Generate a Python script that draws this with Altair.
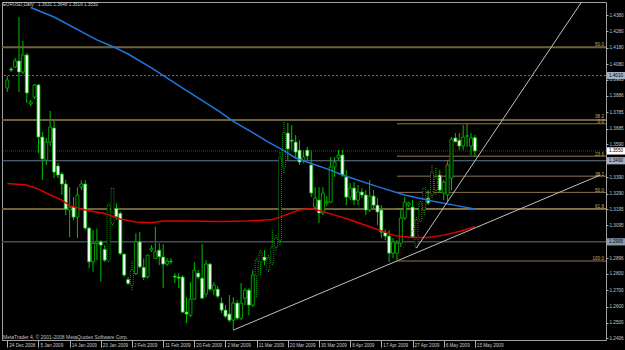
import altair as alt
import pandas as pd

# ---------------- data ----------------
opens = [1.3934, 1.4050, 1.4063, 1.4099, 1.4032, 1.4136, 1.3837, 1.3879, 1.3953, 1.3635,
         1.3494, 1.3604, 1.3690, 1.3458, 1.3409, 1.3348, 1.3189, 1.3207, 1.3146, 1.3329,
         1.3348, 1.3079, 1.2873, 1.2985, 1.2995, 1.2949, 1.2883, 1.3108, 1.3199, 1.3169,
         1.2920, 1.2765, 1.2731, 1.2802, 1.2995, 1.2839, 1.2781, 1.2944, 1.2894, 1.2944,
         1.2902, 1.2859, 1.2877, 1.2786, 1.2780, 1.2780, 1.2566, 1.2547, 1.2645, 1.2804,
         1.2773, 1.2676, 1.2859, 1.2700, 1.2706, 1.2621, 1.2578, 1.2554, 1.2517, 1.2621,
         1.2529, 1.2651, 1.2700, 1.2609, 1.2792, 1.2871, 1.2902, 1.2822, 1.2865, 1.2963,
         1.3005, 1.3452, 1.3659, 1.3616, 1.3604, 1.3555, 1.3494, 1.3555, 1.3464, 1.3207,
         1.3250, 1.3171, 1.3232, 1.3238, 1.3452, 1.3507, 1.3525, 1.3391, 1.3268, 1.3323,
         1.3250, 1.3299, 1.3281, 1.3189, 1.3274, 1.3219, 1.3189, 1.3054, 1.3030, 1.2926,
         1.2926, 1.2987, 1.3140, 1.3219, 1.3207, 1.2963, 1.3128, 1.3189, 1.3262, 1.3281,
         1.3311, 1.3403, 1.3293, 1.3281, 1.3384, 1.3629, 1.3616, 1.3580, 1.3641, 1.3580,
         1.3631]
highs = [1.4008, 1.4063, 1.4118, 1.4368, 1.4222, 1.4148, 1.3861, 1.3959, 1.3959, 1.3665,
         1.3629, 1.3794, 1.3745, 1.3476, 1.3421, 1.3372, 1.3329, 1.3268, 1.3329, 1.3372,
         1.3372, 1.3087, 1.3067, 1.3077, 1.3005, 1.2975, 1.3230, 1.3323, 1.3230, 1.3180,
         1.2924, 1.2781, 1.2883, 1.3047, 1.3056, 1.2894, 1.2914, 1.2975, 1.3087, 1.2987,
         1.2981, 1.2896, 1.2896, 1.2804, 1.2804, 1.2792, 1.2657, 1.2749, 1.2871, 1.2822,
         1.2981, 1.2883, 1.2865, 1.2749, 1.2725, 1.2657, 1.2609, 1.2670, 1.2657, 1.2639,
         1.2743, 1.2712, 1.2712, 1.2822, 1.2902, 1.2944, 1.2944, 1.2914, 1.3067, 1.3036,
         1.3543, 1.3727, 1.3721, 1.3708, 1.3647, 1.3616, 1.3555, 1.3574, 1.3555, 1.3329,
         1.3329, 1.3329, 1.3274, 1.3513, 1.3513, 1.3555, 1.3555, 1.3433, 1.3354, 1.3360,
         1.3342, 1.3323, 1.3311, 1.3372, 1.3311, 1.3262, 1.3219, 1.3073, 1.3067, 1.3018,
         1.3005, 1.3189, 1.3268, 1.3238, 1.3250, 1.3146, 1.3250, 1.3329, 1.3311, 1.3464,
         1.3446, 1.3433, 1.3372, 1.3494, 1.3635, 1.3659, 1.3659, 1.3708, 1.3714, 1.3659,
         1.3648]
lows = [1.3910, 1.4032, 1.4057, 1.3910, 1.4020, 1.3843, 1.3824, 1.3867, 1.3537, 1.3372,
        1.3464, 1.3580, 1.3384, 1.3384, 1.3281, 1.3158, 1.3024, 1.3128, 1.3018, 1.3311,
        1.3067, 1.2833, 1.2812, 1.2883, 1.2751, 1.2873, 1.2873, 1.3097, 1.3128, 1.2914,
        1.2781, 1.2731, 1.2700, 1.2792, 1.2833, 1.2761, 1.2772, 1.2934, 1.2894, 1.2853,
        1.2712, 1.2847, 1.2859, 1.2743, 1.2712, 1.2560, 1.2499, 1.2535, 1.2639, 1.2767,
        1.2645, 1.2657, 1.2694, 1.2670, 1.2651, 1.2560, 1.2529, 1.2505, 1.2456, 1.2517,
        1.2517, 1.2609, 1.2547, 1.2597, 1.2657, 1.2792, 1.2853, 1.2810, 1.2853, 1.2944,
        1.2975, 1.3415, 1.3494, 1.3555, 1.3507, 1.3464, 1.3476, 1.3494, 1.3268, 1.3201,
        1.3110, 1.3158, 1.3213, 1.3232, 1.3391, 1.3494, 1.3391, 1.3219, 1.3250, 1.3219,
        1.3219, 1.3262, 1.3158, 1.3177, 1.3189, 1.3097, 1.3018, 1.3005, 1.2871, 1.2896,
        1.2877, 1.2963, 1.3128, 1.3207, 1.3018, 1.2957, 1.3116, 1.3158, 1.3219, 1.3262,
        1.3281, 1.3299, 1.3250, 1.3238, 1.3311, 1.3604, 1.3555, 1.3555, 1.3574, 1.3525,
        1.3516]
closes = [1.3983, 1.4044, 1.4099, 1.4032, 1.4136, 1.3904, 1.3849, 1.3953, 1.3635, 1.3501,
          1.3604, 1.3696, 1.3421, 1.3403, 1.3348, 1.3195, 1.3207, 1.3146, 1.3281, 1.3348,
          1.3079, 1.2873, 1.2985, 1.2995, 1.2975, 1.2883, 1.3219, 1.3322, 1.3148, 1.2924,
          1.2792, 1.2741, 1.2822, 1.2995, 1.2842, 1.2778, 1.2914, 1.2955, 1.2934, 1.2904,
          1.2859, 1.2877, 1.2874, 1.2780, 1.2773, 1.2566, 1.2554, 1.2645, 1.2822, 1.2780,
          1.2651, 1.2859, 1.2706, 1.2731, 1.2663, 1.2578, 1.2541, 1.2517, 1.2621, 1.2529,
          1.2621, 1.2700, 1.2609, 1.2792, 1.2883, 1.2932, 1.2883, 1.2896, 1.2963, 1.3018,
          1.3507, 1.3659, 1.3562, 1.3610, 1.3543, 1.3482, 1.3513, 1.3519, 1.3293, 1.3262,
          1.3171, 1.3293, 1.3238, 1.3452, 1.3482, 1.3525, 1.3403, 1.3268, 1.3323, 1.3250,
          1.3299, 1.3281, 1.3189, 1.3274, 1.3219, 1.3177, 1.3054, 1.3030, 1.2926, 1.2993,
          1.2987, 1.3140, 1.3238, 1.3232, 1.3024, 1.3128, 1.3232, 1.3323, 1.3232, 1.3421,
          1.3384, 1.3311, 1.3360, 1.3464, 1.3622, 1.3606, 1.3580, 1.3635, 1.3641, 1.3629,
          1.3550]

date_labels = ["24 Dec 2008", "5 Jan 2009", "14 Jan 2009", "23 Jan 2009", "2 Feb 2009",
               "11 Feb 2009", "20 Feb 2009", "2 Mar 2009", "11 Mar 2009", "20 Mar 2009",
               "30 Mar 2009", "8 Apr 2009", "17 Apr 2009", "27 Apr 2009", "6 May 2009",
               "15 May 2009"]
bars_per_label = 8

price_ticks = [1.4380, 1.4280, 1.4180, 1.4080, 1.3985, 1.3886, 1.3785, 1.3685, 1.3590,
               1.3390, 1.3290, 1.3195, 1.3095, 1.2896, 1.2800, 1.2700, 1.2600, 1.2500, 1.2406]

blue_ma_bar = [6, 12, 23, 27, 31, 37, 45, 54, 58, 63, 67, 71, 74, 78, 83, 86, 95, 102, 109, 116, 120]
blue_ma = [1.4426, 1.4368, 1.4228, 1.4188, 1.4142, 1.4057, 1.3934, 1.3797, 1.3730, 1.3662,
           1.3604, 1.3552, 1.3507, 1.3473, 1.3433, 1.3403, 1.3332, 1.3281, 1.3244, 1.3213, 1.3195]
red_ma_bar = [0, 5, 8, 10, 14, 16, 20, 25, 29, 33, 37, 40, 46, 54, 62, 68, 70, 72, 75, 78, 81, 84,
              87, 95, 98, 100, 104, 108, 112, 116, 120]
red_ma = [1.3351, 1.3342, 1.3317, 1.3293, 1.3250, 1.3216, 1.3189, 1.3168, 1.3134, 1.3116, 1.3111,
          1.3122, 1.3122, 1.3119, 1.3122, 1.3131, 1.3146, 1.3164, 1.3189, 1.3198, 1.3180, 1.3158,
          1.3137, 1.3070, 1.3045, 1.3030, 1.3022, 1.3022, 1.3036, 1.3058, 1.3087]

trend_a_bar = [58, 152.2]
trend_a = [1.2456, 1.3403]
trend_b_bar = [105, 151]
trend_b = [1.2957, 1.4588]
fib_base_bar = [100, 118]
fib_base = [1.2878, 1.3716]

long_fib_levels = [1.4183, 1.3739, 1.3195]
long_fib_text = ["50.0", "38.2", ""]
short_fib_levels = [1.3716, 1.3518, 1.3396, 1.3297, 1.3198, 1.2878]
short_fib_text = ["0.0", "23.6", "38.2", "50.0", "61.8", "100.0"]
short_fib_start_bar = 100

hlines = [1.4010, 1.3490, 1.2995]
bid_price = 1.3550
marked_prices = [1.4010, 1.3550, 1.3490, 1.2995]

dotted_bars = [26, 27, 32, 64, 65, 67, 68, 69, 70, 71, 105, 106, 107, 109, 110]

# ---------------- frames ----------------
n = len(opens)
df = pd.DataFrame({"i": list(range(n)), "open": opens, "high": highs, "low": lows, "close": closes})
df["dotted"] = df["i"].isin(dotted_bars)

FONT = "Liberation Sans"
GREEN = "#00c000"
W, H = 604, 338
FS = 4.6

xs = alt.Scale(domain=[-0.076, 152.37], nice=False, zero=False)
ys = alt.Scale(domain=[1.23956, 1.44594], nice=False, zero=False)

label_expr = "[" + ",".join("'%s'" % s for s in date_labels) + "][round(datum.value/%d)]" % bars_per_label
x_axis = alt.Axis(values=[k * bars_per_label for k in range(len(date_labels))], labelExpr=label_expr,
                  title=None, grid=False, domain=False, labelAlign="left", labelOffset=1.5,
                  labelFontSize=FS, labelFont=FONT, labelColor="#c8c8c8", tickColor="#b0b0b0",
                  tickSize=7, labelPadding=-4.5, labelBaseline="top", labelOverlap=False,
                  labelFlush=False)
y_axis = alt.Axis(values=price_ticks, format=".4f", orient="right", title=None, grid=False,
                  domain=False, labelFontSize=FS, labelFont=FONT, labelColor="#c8c8c8",
                  tickColor="#b0b0b0", tickSize=2, labelPadding=1, labelOverlap=False,
                  labelFlush=False, labelBaseline="middle")

base = alt.Chart(df)

def X(f="i"):
    return alt.X(f + ":Q", scale=xs, axis=x_axis)

def Y(f):
    return alt.Y(f + ":Q", scale=ys, axis=y_axis)

# horizontal lines
long_df = pd.DataFrame({"p": long_fib_levels, "t": long_fib_text})
short_df = pd.DataFrame({"p": short_fib_levels, "t": short_fib_text, "s": short_fib_start_bar})
hl_df = pd.DataFrame({"p": hlines, "k": ["dash", "solid", "dark"]})

long_lines = alt.Chart(long_df).mark_rule(color="#6e6238", strokeWidth=2).encode(y=Y("p"))
short_lines = alt.Chart(short_df).mark_rule(color="#8a7850", strokeWidth=1).encode(
    x=X("s"), x2=alt.value(W), y=Y("p"))
hl1 = alt.Chart(hl_df[hl_df.k == "dash"]).mark_rule(color="#687890", strokeWidth=1, strokeDash=[2, 2]).encode(y=Y("p"))
hl2 = alt.Chart(hl_df[hl_df.k == "solid"]).mark_rule(color="#66788e", strokeWidth=1).encode(y=Y("p"))
hl3 = alt.Chart(hl_df[hl_df.k == "dark"]).mark_rule(color="#3e4c5e", strokeWidth=1.5).encode(y=Y("p"))
bid = alt.Chart(pd.DataFrame({"p": [bid_price]})).mark_rule(color="#3a4048", strokeWidth=1, strokeDash=[1, 1]).encode(y=Y("p"))

long_txt = alt.Chart(long_df[long_df.t != ""]).mark_text(
    align="right", baseline="alphabetic", dy=-1.5, fontSize=FS, font=FONT, color="#c8b450").encode(
    x=alt.value(W - 2), y=Y("p"), text="t:N")
short_txt = alt.Chart(short_df).mark_text(
    align="right", baseline="alphabetic", dy=-0.5, fontSize=FS, font=FONT, color="#c8b450").encode(
    x=alt.value(W - 2), y=Y("p"), text="t:N")

# candles
wick_solid = base.transform_filter("!datum.dotted").mark_rule(color=GREEN, strokeWidth=1).encode(
    x=X("i"), y=Y("low"), y2="high:Q")
wick_dot = base.transform_filter("datum.dotted").mark_rule(color=GREEN, strokeWidth=1, strokeDash=[1, 1]).encode(
    x=X("i"), y=Y("low"), y2="high:Q")
fill_cond = alt.condition("datum.close < datum.open", alt.value("#ffffff"), alt.value("#000000"))
body_solid = base.transform_filter("!datum.dotted").mark_bar(size=3, stroke=GREEN, strokeWidth=0.8).encode(
    x=X("i"), y=Y("open"), y2="close:Q", fill=fill_cond)
body_dot = base.transform_filter("datum.dotted").mark_bar(size=3, stroke=GREEN, strokeWidth=0.8, strokeDash=[1, 1]).encode(
    x=X("i"), y=Y("open"), y2="close:Q", fill=fill_cond)

# moving averages
blue = alt.Chart(pd.DataFrame({"b": blue_ma_bar, "p": blue_ma})).mark_line(
    color="#1e78dc", strokeWidth=1.5, clip=True).encode(x=X("b"), y=Y("p"))
red = alt.Chart(pd.DataFrame({"b": red_ma_bar, "p": red_ma})).mark_line(
    color="#dc0000", strokeWidth=1.5, clip=True).encode(x=X("b"), y=Y("p"))

# trend lines
ta = alt.Chart(pd.DataFrame({"b": trend_a_bar, "p": trend_a})).mark_line(
    color="#c0c0c0", strokeWidth=1, clip=True).encode(x=X("b"), y=Y("p"))
tb = alt.Chart(pd.DataFrame({"b": trend_b_bar, "p": trend_b})).mark_line(
    color="#c0c0c0", strokeWidth=1, clip=True).encode(x=X("b"), y=Y("p"))
fb = alt.Chart(pd.DataFrame({"b": fib_base_bar, "p": fib_base})).mark_line(
    color="#c80000", strokeWidth=1, strokeDash=[1, 2], clip=True).encode(x=X("b"), y=Y("p"))

# price marker boxes on the right scale
box_df = pd.DataFrame({"p": marked_prices,
                       "t": ["%.4f" % v for v in marked_prices],
                       "c": ["#9fb0c4", "#ffffff", "#9fb0c4", "#8a9aac"]})
box_df["lo"] = box_df["p"] - 0.0022
box_df["hi"] = box_df["p"] + 0.0022
boxes = alt.Chart(box_df).mark_rect().encode(
    x=alt.value(W + 1), x2=alt.value(W + 19), y=Y("lo"), y2="hi:Q",
    fill=alt.Fill("c:N", scale=None))
box_text = alt.Chart(box_df).mark_text(fontSize=FS, font=FONT, color="#000000", baseline="middle",
                                       align="center").encode(
    x=alt.value(W + 10), y=Y("p"), text="t:N")

# header / footer text
title_name = "EURUSD,Daily"
title_vals = "%.4f %.4f %.4f %.4f" % (opens[-1], highs[-1], lows[-1], closes[-1])
title1 = alt.Chart(pd.DataFrame({"t": [title_name]})).mark_text(
    align="left", baseline="middle", fontSize=FS, font=FONT, color="#d0d0d0").encode(
    x=alt.value(1), y=alt.value(3), text="t:N")
title2 = alt.Chart(pd.DataFrame({"t": [title_vals]})).mark_text(
    align="left", baseline="middle", fontSize=FS, font=FONT, color="#d0d0d0").encode(
    x=alt.value(36), y=alt.value(3), text="t:N")
footer = alt.Chart(pd.DataFrame({"t": ["MetaTrader 4, \u00a9 2001-2008 MetaQuotes Software Corp."]})).mark_text(
    align="left", baseline="middle", fontSize=5, font=FONT, color="#c0c0c0").encode(
    x=alt.value(1), y=alt.value(H - 3.5), text="t:N")

chart = alt.layer(
    wick_solid, long_lines, short_lines, hl1, hl2, hl3, bid, long_txt, short_txt,
    wick_dot, body_solid, body_dot, blue, red, ta, tb, fb,
    boxes, box_text, title1, title2, footer
).properties(
    width=W, height=H, background="#000000",
    padding={"left": 2, "top": 2, "right": 19, "bottom": 10},
    autosize=alt.AutoSizeParams(type="none")
).configure_view(stroke="#a0a0a0", strokeWidth=1)

chart.save("out.html", embed_options={"renderer": "svg", "actions": False})
